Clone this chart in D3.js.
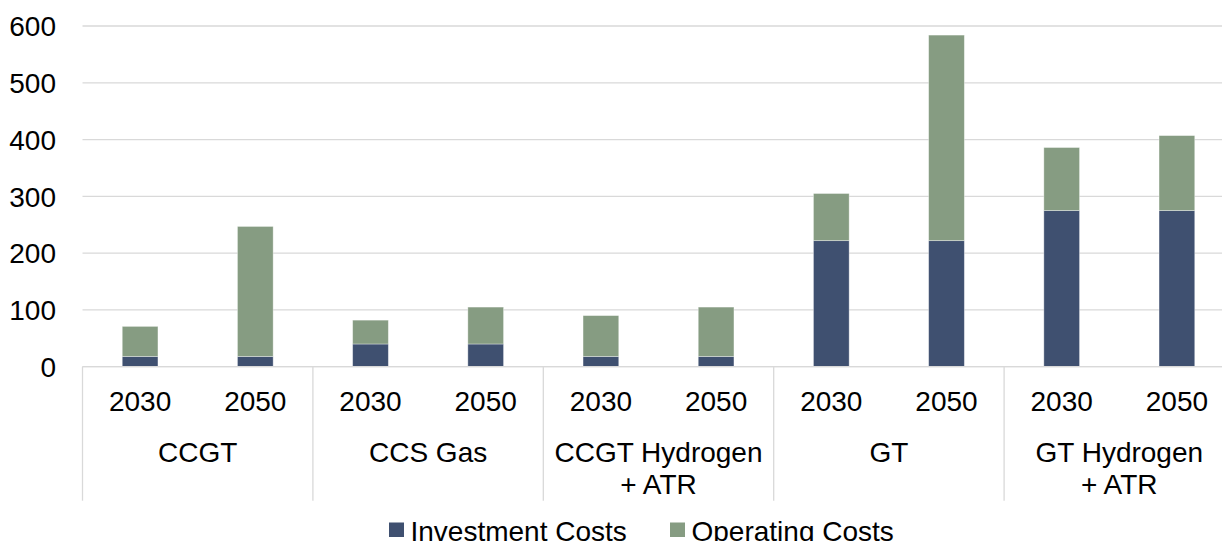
<!DOCTYPE html>
<html>
<head>
<meta charset="utf-8">
<script src="https://cdn.jsdelivr.net/npm/d3@7"></script>
<style>
  html, body { margin: 0; padding: 0; background: #fff; }
  svg { display: block; }
  text { font-family: "Liberation Sans", Arial, sans-serif; fill: #000; }
</style>
</head>
<body>
<svg id="chart" width="1222" height="541"></svg>
<script>
// Technologies (group labels, split into lines) and the years shown for each
const technologies = [["CCGT"], ["CCS Gas"], ["CCGT Hydrogen", "+ ATR"], ["GT"], ["GT Hydrogen", "+ ATR"]];
const years = ["2030", "2050"];

// Cost components per bar, in technology/year order
const investmentCosts = [18, 18, 40, 40, 18, 18, 222, 222, 275, 275];
const operatingCosts = [53, 229, 42, 65, 72, 87, 83, 362, 111, 132];

const yTicks = [0, 100, 200, 300, 400, 500, 600];
const seriesNames = ["Investment Costs", "Operating Costs"];
const seriesColors = ["#3f5070", "#869c82"];

// Build one row per bar
const rows = [];
technologies.forEach((tech, ti) => {
  years.forEach((yr, yi) => {
    const i = ti * years.length + yi;
    rows.push({
      key: ti + "-" + yr,
      tech: ti,
      year: yr,
      "Investment Costs": investmentCosts[i],
      "Operating Costs": operatingCosts[i]
    });
  });
});

const svg = d3.select("#chart");
const plotLeft = 82.5, plotRight = 1234.5, plotTop = 26, plotBase = 366.7;

const x = d3.scaleBand()
  .domain(rows.map(d => d.key))
  .range([plotLeft, plotRight])
  .paddingInner(0.69)
  .paddingOuter(0.345);

const xGroup = d3.scaleBand()
  .domain(technologies.map((t, i) => i))
  .range([plotLeft, plotRight]);

const y = d3.scaleLinear().domain([0, 600]).range([plotBase, plotTop]);

// Horizontal gridlines
svg.append("g")
  .selectAll("line")
  .data(yTicks)
  .join("line")
  .attr("x1", plotLeft)
  .attr("x2", plotRight)
  .attr("y1", d => y(d))
  .attr("y2", d => y(d))
  .attr("stroke", "#d9d9d9")
  .attr("stroke-width", 1.3);

// Y axis labels
const yAxis = d3.axisLeft(y).tickValues(yTicks).tickSize(0).tickPadding(0);
const gy = svg.append("g").attr("transform", "translate(56,0)").call(yAxis);
gy.select(".domain").remove();
gy.selectAll("text")
  .attr("font-size", 28)
  .attr("font-family", "Liberation Sans, Arial, sans-serif")
  .attr("fill", "#000")
  .attr("dy", "0.35em");

// Stacked bars
const stacked = d3.stack().keys(seriesNames)(rows);
svg.append("g")
  .selectAll("g")
  .data(stacked)
  .join("g")
  .attr("fill", (d, i) => seriesColors[i])
  .selectAll("rect")
  .data(d => d)
  .join("rect")
  .attr("x", d => x(d.data.key))
  .attr("width", x.bandwidth())
  .attr("y", d => y(d[1]))
  .attr("height", d => y(d[0]) - y(d[1]))
  .attr("stroke", "rgba(255,255,255,0.45)")
  .attr("stroke-width", 0.8);

// Category axis: baseline and group separators
svg.append("line")
  .attr("x1", plotLeft).attr("x2", plotRight)
  .attr("y1", plotBase).attr("y2", plotBase)
  .attr("stroke", "#d9d9d9").attr("stroke-width", 1.3);

const separators = technologies.map((t, i) => xGroup(i)).concat([plotRight]);
svg.append("g")
  .selectAll("line")
  .data(separators)
  .join("line")
  .attr("x1", d => d).attr("x2", d => d)
  .attr("y1", plotBase).attr("y2", 500.7)
  .attr("stroke", "#d9d9d9").attr("stroke-width", 1.3);

// Year labels
svg.append("g")
  .selectAll("text")
  .data(rows)
  .join("text")
  .attr("x", d => x(d.key) + x.bandwidth() / 2)
  .attr("y", 410.5)
  .attr("text-anchor", "middle")
  .attr("font-size", 28)
  .text(d => d.year);

// Technology labels
svg.append("g")
  .selectAll("text")
  .data(technologies)
  .join("text")
  .attr("x", (d, i) => xGroup(i) + xGroup.bandwidth() / 2)
  .attr("y", 461.5)
  .attr("text-anchor", "middle")
  .attr("font-size", 28)
  .each(function(lines) {
    const cx = d3.select(this).attr("x");
    d3.select(this).selectAll("tspan")
      .data(lines)
      .join("tspan")
      .attr("x", cx)
      .attr("dy", (d, j) => j === 0 ? 0 : 32.5)
      .text(d => d);
  });

// Legend
const legendPos = [389, 670];
const legend = svg.append("g")
  .selectAll("g")
  .data(seriesNames)
  .join("g")
  .attr("transform", (d, i) => `translate(${legendPos[i]},0)`);
legend.append("rect")
  .attr("x", 0).attr("y", 522.5)
  .attr("width", 15).attr("height", 14.5)
  .attr("fill", (d, i) => seriesColors[i]);
legend.append("text")
  .attr("x", 21.5).attr("y", 540.5)
  .attr("font-size", 28)
  .text(d => d);
</script>
</body>
</html>
